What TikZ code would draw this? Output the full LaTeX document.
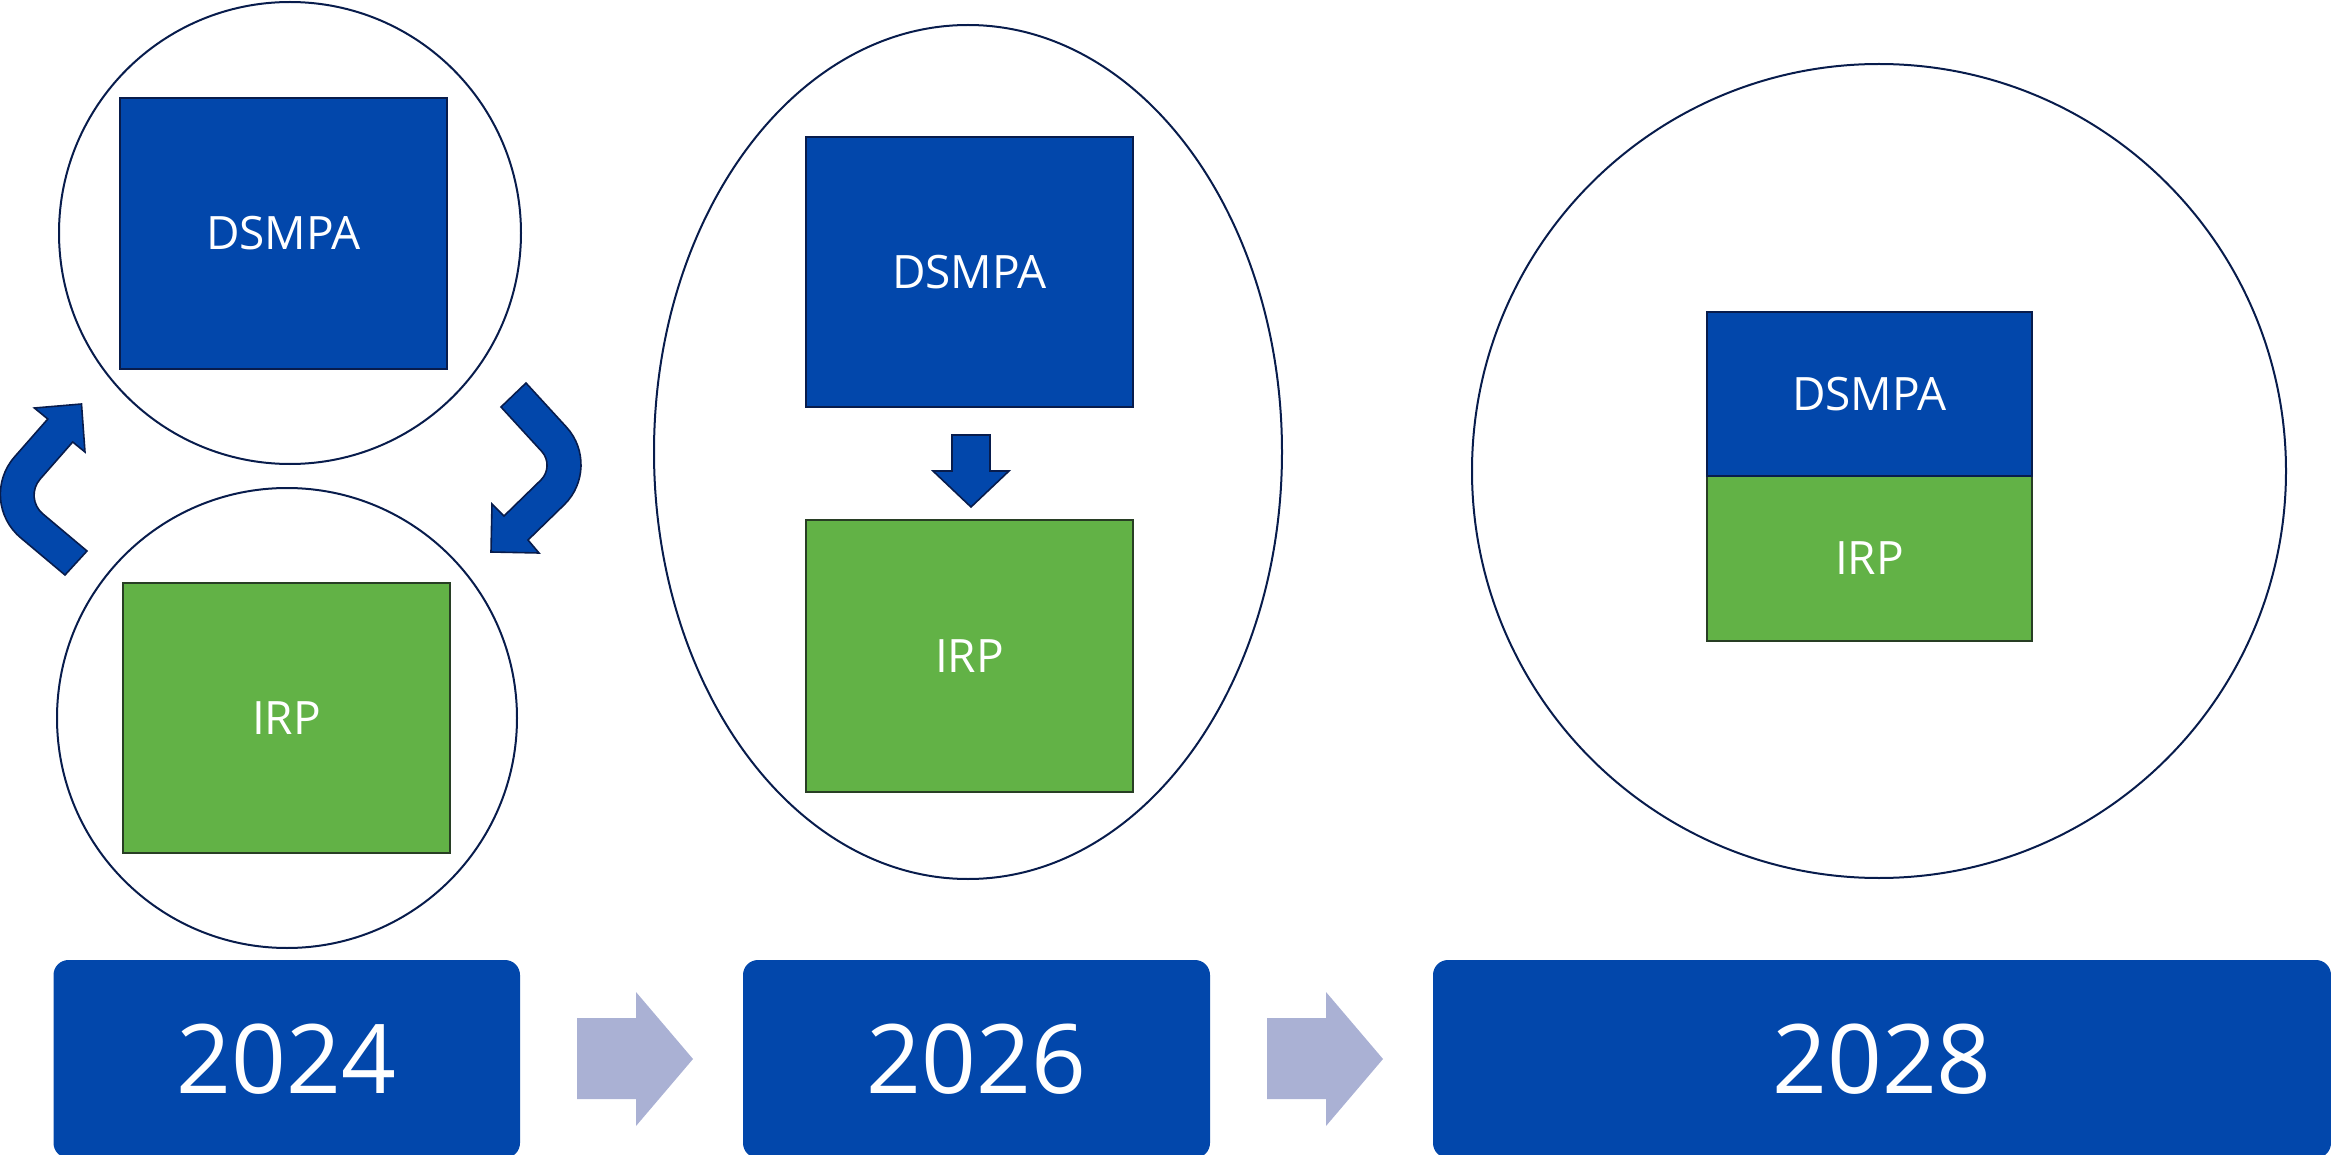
\documentclass[tikz,border=0pt]{standalone}
\usepackage{fontspec}
\setmainfont{Open Sans}
\usetikzlibrary{shapes.geometric}
\definecolor{cblue}{RGB}{2,71,171}
\definecolor{cgreen}{RGB}{98,178,70}
\definecolor{cnavy}{RGB}{8,28,76}
\definecolor{cgborder}{RGB}{40,62,36}
\definecolor{clav}{RGB}{170,177,212}
\begin{document}
\begin{tikzpicture}[x=0.5pt,y=-0.5pt,
  ring/.style={draw=cnavy, line width=1pt, inner sep=0pt},
  bluebox/.style={draw=cnavy, line width=1pt, fill=cblue, text=white, inner sep=0pt, font=\fontsize{23}{27}\selectfont},
  greenbox/.style={draw=cgborder, line width=1pt, fill=cgreen, text=white, inner sep=0pt, font=\fontsize{23}{27}\selectfont},
  yearbox/.style={fill=cblue, rounded corners=7.5pt, text=white, inner sep=0pt, font=\fontsize{48}{56}\selectfont},
  curvarrow/.style={fill=cblue, draw=cnavy, line width=0.8pt},
  stepper/.style={fill=clav}]
\useasboundingbox (0,0) rectangle (2331,1155);
\clip (0,0) rectangle (2331,1155);

% circles / ellipse
\node[ring, circle, minimum size=231pt] (c1) at (290,233) {};
\node[ring, circle, minimum size=230pt] (c2) at (287,718) {};
\node[ring, ellipse, minimum width=314pt, minimum height=427pt] (e2) at (968,452) {};
\node[ring, circle, minimum size=407pt] (c3) at (1879,471) {};

% boxes 2024
\node[bluebox, minimum width=163.5pt, minimum height=135.5pt] (d1) at (283.5,233.5) {DSMPA};
\node[greenbox, minimum width=163.5pt, minimum height=135pt] (i1) at (286.5,718) {IRP};
% boxes 2026
\node[bluebox, minimum width=163.5pt, minimum height=135pt] (d2) at (969.5,272) {DSMPA};
\node[greenbox, minimum width=163.5pt, minimum height=136pt] (i2) at (969.5,656) {IRP};
% boxes 2028
\node[greenbox, minimum width=162.5pt, minimum height=82.5pt] (i3) at (1869.5,558.5) {IRP};
\node[bluebox, minimum width=162.5pt, minimum height=82pt] (d3) at (1869.5,394) {DSMPA};

% curved arrows (2024)
\filldraw[curvarrow] (65,575) [rounded corners=29pt] -- (-23.7,500.5) [sharp corners] -- (47.8,419) -- (34.4,408) -- (81.5,404) -- (85,452) -- (72.7,442) [rounded corners=12.5pt] -- (23.7,497.8) [sharp corners] -- (87,551) -- cycle;
\filldraw[curvarrow] (501,407) -- (526,383) [rounded corners=27pt] -- (603,467) [sharp corners] -- (528,540) -- (539,553) -- (491,552) -- (492,504) -- (504,516) [rounded corners=10pt] -- (555.2,466.1) [sharp corners] -- cycle;

% down arrow (2026)
\filldraw[curvarrow] (952,435) -- (990,435) -- (990,471) -- (1009,471) -- (971,507) -- (933,471) -- (952,471) -- cycle;

% year boxes
\node[yearbox, minimum width=233.25pt, minimum height=99pt] (y1) at (286.75,1059) {2024};
\node[yearbox, minimum width=233.5pt, minimum height=99pt] (y2) at (976.5,1059) {2026};
\node[yearbox, minimum width=449pt, minimum height=99pt] (y3) at (1882,1059) {2028};

% step arrows
\fill[stepper] (577,1018) -- (636,1018) -- (636,992) -- (693,1059) -- (636,1126) -- (636,1099) -- (577,1099) -- cycle;
\fill[stepper] (1267,1018) -- (1326,1018) -- (1326,992) -- (1383,1059) -- (1326,1126) -- (1326,1099) -- (1267,1099) -- cycle;
\end{tikzpicture}
\end{document}
